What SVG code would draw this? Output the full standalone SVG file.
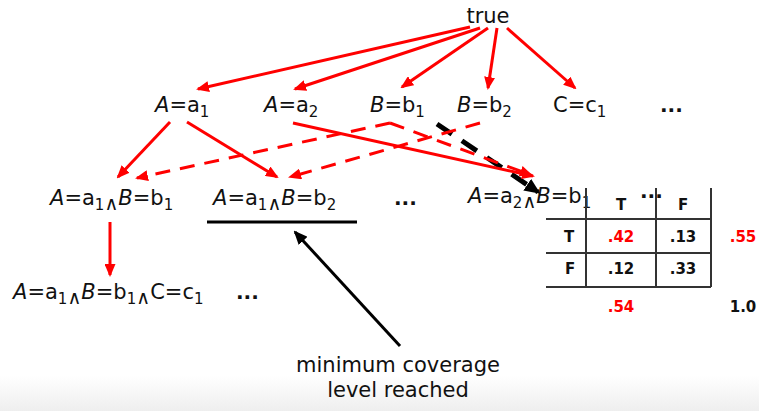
<svg xmlns="http://www.w3.org/2000/svg" width="759" height="411" viewBox="0 0 759 411">
<defs>
<linearGradient id="bg" x1="0" y1="0" x2="0" y2="1">
<stop offset="0" stop-color="#ffffff"/>
<stop offset="1" stop-color="#eeeeee"/>
</linearGradient>
<marker id="ar" markerUnits="userSpaceOnUse" markerWidth="13" markerHeight="11" refX="11" refY="5.5" orient="auto">
<path d="M0,0 L13,5.5 L0,11 z" fill="#ff0000"/>
</marker>
<marker id="ak" markerUnits="userSpaceOnUse" markerWidth="16" markerHeight="14" refX="13" refY="7" orient="auto">
<path d="M0,0 L16,7 L0,14 z" fill="#000"/>
</marker>
<marker id="ak2" markerUnits="userSpaceOnUse" markerWidth="14" markerHeight="12" refX="12" refY="6" orient="auto">
<path d="M0,0 L14,6 L0,12 z" fill="#000"/>
</marker>
</defs>
<style>
.t{font-family:"DejaVu Sans",Verdana,sans-serif;font-size:21px;fill:#111}
.s{font-size:15px}
.w{font-size:19px}
.i{font-style:italic}
.d{font-family:"DejaVu Sans",Verdana,sans-serif;font-weight:bold;font-size:20px;fill:#111}
.r{stroke:#ff0000;stroke-width:3;fill:none;marker-end:url(#ar)}
.rd{stroke:#ff0000;stroke-width:3;fill:none;stroke-dasharray:15 10;marker-end:url(#ar)}
.tb{font-family:"DejaVu Sans",Verdana,sans-serif;font-weight:bold;font-size:15px;fill:#111;text-anchor:middle}
.red{fill:#ff0000}
.g{stroke:#333;stroke-width:2}
</style>
<rect x="0" y="0" width="759" height="411" fill="#fff"/>
<rect x="0" y="376" width="759" height="35" fill="url(#bg)"/>

<g id="connectors">
<line x1="437" y1="124" x2="538" y2="192" stroke="#000" stroke-width="5" stroke-dasharray="18 12" marker-end="url(#ak)"/>
<line class="r" x1="470" y1="27" x2="198" y2="89"/>
<line class="r" x1="480" y1="28" x2="295" y2="89"/>
<line class="r" x1="488" y1="28" x2="402" y2="87"/>
<line class="r" x1="497" y1="28" x2="488" y2="88"/>
<line class="r" x1="507" y1="28" x2="575" y2="88"/>
<line class="r" x1="170" y1="122" x2="118" y2="177"/>
<line class="r" x1="187" y1="122" x2="277" y2="177"/>
<line class="r" x1="293" y1="123" x2="533" y2="176"/>
<line class="rd" x1="390" y1="123" x2="137" y2="178"/>
<line class="rd" x1="480" y1="123" x2="290" y2="177"/>
<line class="rd" x1="390" y1="123" x2="531" y2="175"/>
<line class="r" x1="110" y1="222" x2="110" y2="275"/>
<line x1="400" y1="346" x2="295" y2="232" stroke="#000" stroke-width="3" marker-end="url(#ak2)"/>
<line x1="207" y1="222" x2="357" y2="222" stroke="#000" stroke-width="3"/>
</g>

<g id="n-true"><text class="t" x="488" y="23" text-anchor="middle">true</text></g>
<g id="n-a1"><text class="t" x="155" y="112"><tspan class="i">A</tspan>=a<tspan class="s" dy="5">1</tspan></text></g>
<g id="n-a2"><text class="t" x="264" y="112"><tspan class="i">A</tspan>=a<tspan class="s" dy="5">2</tspan></text></g>
<g id="n-b1"><text class="t" x="370" y="112"><tspan class="i">B</tspan>=b<tspan class="s" dy="5">1</tspan></text></g>
<g id="n-b2"><text class="t" x="457" y="112"><tspan class="i">B</tspan>=b<tspan class="s" dy="5">2</tspan></text></g>
<g id="n-c1"><text class="t" x="553" y="112">C=c<tspan class="s" dy="5">1</tspan></text></g>
<g id="n-dots1"><text class="d" x="660" y="112">...</text></g>

<g id="n-a1b1"><text class="t" x="50" y="205"><tspan class="i">A</tspan>=a<tspan class="s" dy="5">1</tspan><tspan class="w">∧</tspan><tspan class="i" dy="-5">B</tspan>=b<tspan class="s" dy="5">1</tspan></text></g>
<g id="n-a1b2"><text class="t" x="213" y="205"><tspan class="i">A</tspan>=a<tspan class="s" dy="5">1</tspan><tspan class="w">∧</tspan><tspan class="i" dy="-5">B</tspan>=b<tspan class="s" dy="5">2</tspan></text></g>
<g id="n-dots2"><text class="d" x="394" y="205">...</text></g>
<g id="n-a2b1"><text class="t" x="468" y="203"><tspan class="i">A</tspan>=a<tspan class="s" dy="5">2</tspan><tspan class="w">∧</tspan><tspan class="i" dy="-5">B</tspan>=b<tspan class="s" dy="5">1</tspan></text></g>
<g id="n-dots3"><text class="d" x="640" y="198">...</text></g>

<g id="n-a1b1c1"><text class="t" x="13" y="299"><tspan class="i">A</tspan>=a<tspan class="s" dy="5">1</tspan><tspan class="w">∧</tspan><tspan class="i" dy="-5">B</tspan>=b<tspan class="s" dy="5">1</tspan><tspan class="w">∧</tspan><tspan dy="-5">C=c</tspan><tspan class="s" dy="5">1</tspan></text></g>
<g id="n-dots4"><text class="d" x="236" y="299">...</text></g>

<g id="n-note"><text class="t" x="398" y="372" text-anchor="middle">minimum coverage</text><text class="t" x="398" y="397" text-anchor="middle">level reached</text></g>

<g id="n-table">
<line class="g" x1="586" y1="188" x2="586" y2="287"/>
<line class="g" x1="656" y1="188" x2="656" y2="287"/>
<line class="g" x1="711" y1="188" x2="711" y2="287"/>
<line class="g" x1="546" y1="219" x2="711" y2="219"/>
<line class="g" x1="546" y1="253" x2="711" y2="253"/>
<line class="g" x1="546" y1="287" x2="711" y2="287"/>
<text class="tb" x="621" y="210">T</text>
<text class="tb" x="683" y="210">F</text>
<text class="tb" x="569" y="242">T</text>
<text class="tb" x="570" y="274">F</text>
<text class="tb red" x="621" y="242">.42</text>
<text class="tb" x="683" y="242">.13</text>
<text class="tb" x="621" y="274">.12</text>
<text class="tb" x="683" y="274">.33</text>
<text class="tb red" x="743" y="242">.55</text>
<text class="tb red" x="621" y="312">.54</text>
<text class="tb" x="743" y="312">1.0</text>
</g>
</svg>
